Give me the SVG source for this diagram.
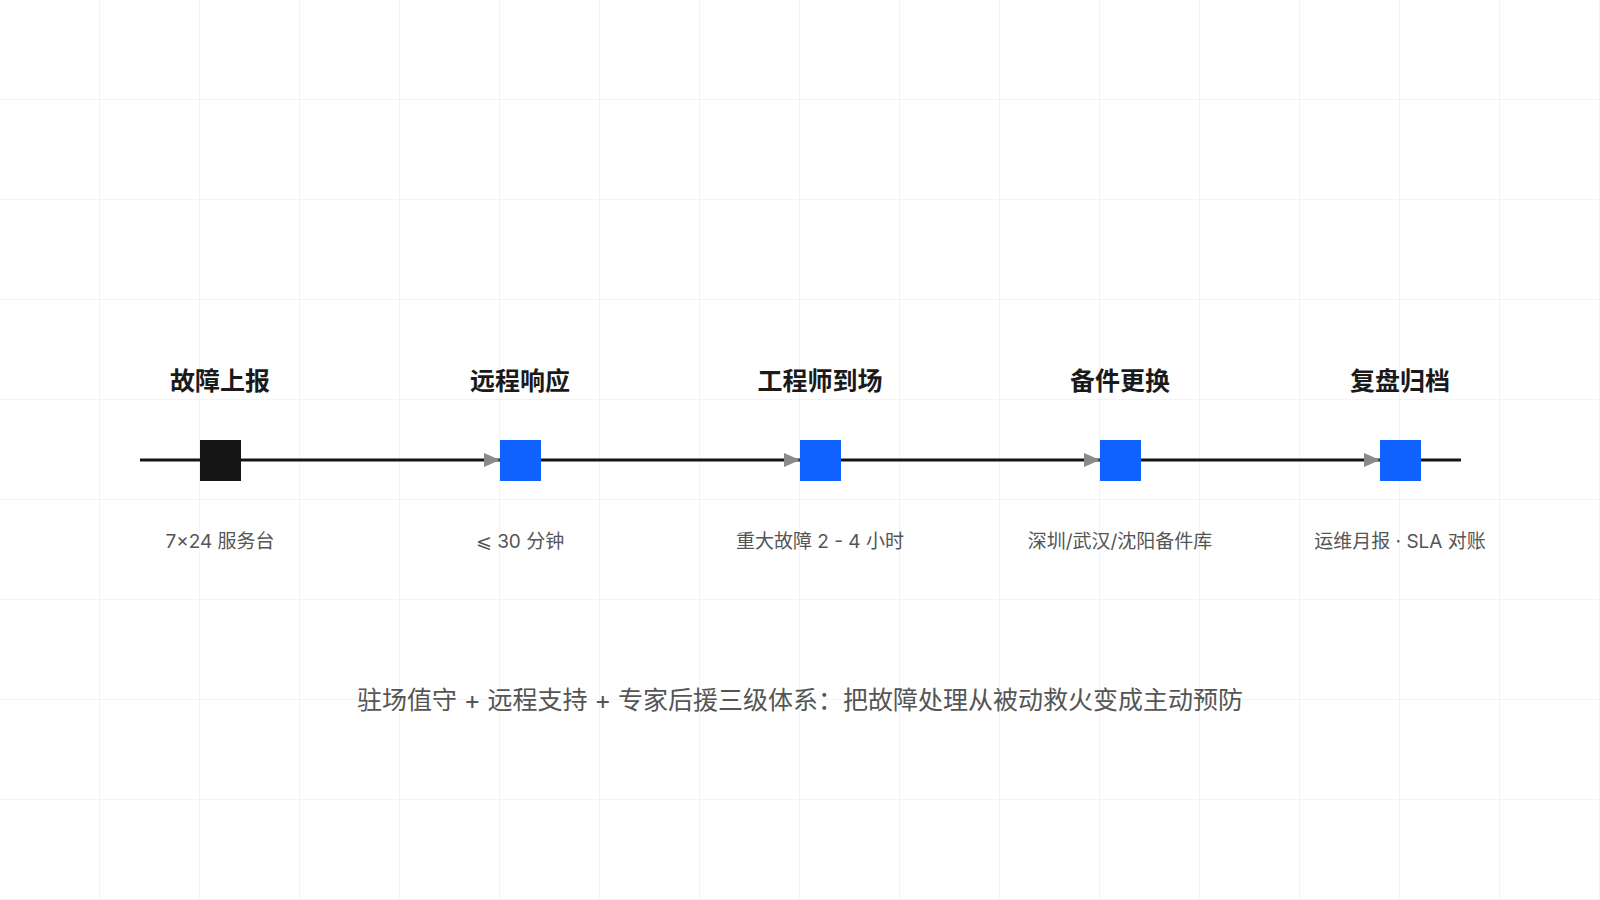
<svg xmlns="http://www.w3.org/2000/svg" width="1600" height="900" viewBox="0 0 1600 900">
<defs>
<pattern id="grid" width="100" height="100" patternUnits="userSpaceOnUse"><path d="M100 0V100M0 100H100" fill="none" stroke="#e8e8e8" stroke-width="1"/></pattern>
<marker id="arr" markerWidth="16" markerHeight="14" refX="16" refY="7" orient="auto" markerUnits="userSpaceOnUse"><path d="M0 0L16 7L0 14Z" fill="#8a8a8a"/></marker>
</defs>
<style>
.t{font-family:Inter,"Noto Sans CJK SC",sans-serif;font-weight:700;font-size:25px;fill:#1a1a1a;text-anchor:middle}
.s{font-family:Inter,"Noto Sans CJK SC",sans-serif;font-size:19px;fill:#555;text-anchor:middle}
.c{stroke:#151515;stroke-width:3;fill:none}
</style>
<rect width="1600" height="900" fill="#fff"/>
<rect width="1600" height="900" fill="url(#grid)"/>
<g id="connectors">
<line class="c" x1="140" y1="460" x2="200" y2="460"/>
<line class="c" x1="241" y1="460" x2="500" y2="460" marker-end="url(#arr)"/>
<line class="c" x1="541" y1="460" x2="800" y2="460" marker-end="url(#arr)"/>
<line class="c" x1="841" y1="460" x2="1100" y2="460" marker-end="url(#arr)"/>
<line class="c" x1="1141" y1="460" x2="1380" y2="460" marker-end="url(#arr)"/>
<line class="c" x1="1421" y1="460" x2="1461" y2="460"/>
</g>
<g id="n1"><text class="t" x="220" y="390">故障上报</text><rect x="200" y="440" width="41" height="41" fill="#151515"/><text class="s" x="220" y="548">7×24 服务台</text></g>
<g id="n2"><text class="t" x="520" y="390">远程响应</text><rect x="500" y="440" width="41" height="41" fill="#0f62fe"/><text class="s" x="520" y="548">⩽ 30 分钟</text></g>
<g id="n3"><text class="t" x="820" y="390">工程师到场</text><rect x="800" y="440" width="41" height="41" fill="#0f62fe"/><text class="s" x="820" y="548">重大故障 2 - 4 小时</text></g>
<g id="n4"><text class="t" x="1120" y="390">备件更换</text><rect x="1100" y="440" width="41" height="41" fill="#0f62fe"/><text class="s" x="1120" y="548">深圳/武汉/沈阳备件库</text></g>
<g id="n5"><text class="t" x="1400" y="390">复盘归档</text><rect x="1380" y="440" width="41" height="41" fill="#0f62fe"/><text class="s" x="1400" y="548">运维月报 · SLA 对账</text></g>
<text x="800" y="709" font-family="Inter,'Noto Sans CJK SC',sans-serif" font-size="25" fill="#555" text-anchor="middle">驻场值守 + 远程支持 + 专家后援三级体系：把故障处理从被动救火变成主动预防</text>
</svg>
